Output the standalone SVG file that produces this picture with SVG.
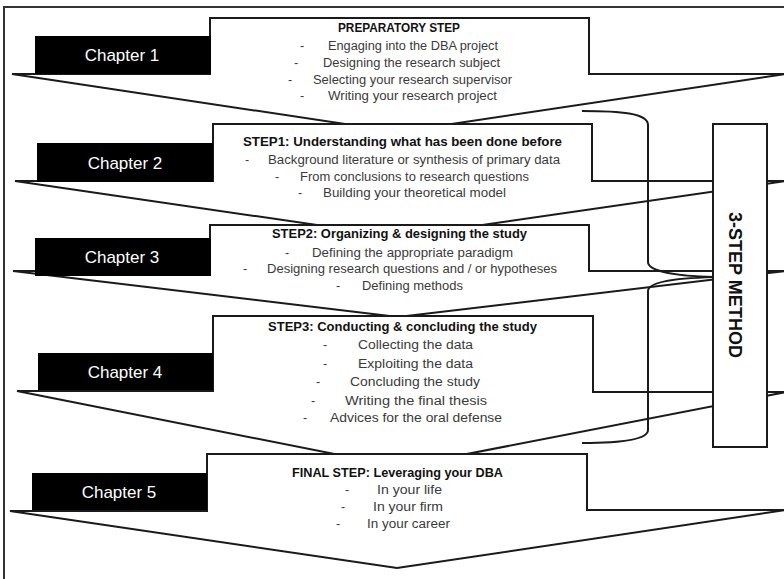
<svg xmlns="http://www.w3.org/2000/svg" width="784" height="579" viewBox="0 0 784 579">
<style>
.bg{fill:#fff}
.frame{fill:none;stroke:#333;stroke-width:2}
.shape{fill:#fff;stroke:#1a1a1a;stroke-width:2;stroke-linejoin:miter}
.chap{fill:#000}
.ct{font-family:"Liberation Sans",Arial,sans-serif;font-size:17px;fill:#fff;text-anchor:middle}
.h{font-family:"Liberation Sans",Arial,sans-serif;font-weight:bold;font-size:13px;fill:#111}
.t{font-family:"Liberation Sans",Arial,sans-serif;font-size:12.5px;fill:#3a3a3a}
.brace{fill:none;stroke:#1a1a1a;stroke-width:2}
.side{fill:#fff;stroke:#1a1a1a;stroke-width:2}
.st{font-family:"Liberation Sans",Arial,sans-serif;font-weight:bold;font-size:18px;fill:#111}
</style>
<rect class="bg" x="0" y="0" width="784" height="579"/>
<rect class="frame" x="4" y="7" width="800" height="600"/>

<g id="step0">
<polygon class="shape" points="210,18 589,18 589,74 786,74 398,132 12,74 210,74"/>
<rect class="chap" x="35" y="36" width="176" height="38"/>
<text class="ct" x="122" y="61">Chapter 1</text>
<text class="h" x="338" y="32" textLength="122" lengthAdjust="spacingAndGlyphs">PREPARATORY STEP</text>
<text class="t" x="300" y="50">-</text><text class="t" x="328" y="50" textLength="170" lengthAdjust="spacingAndGlyphs">Engaging into the DBA project</text>
<text class="t" x="294" y="67">-</text><text class="t" x="323" y="67" textLength="177" lengthAdjust="spacingAndGlyphs">Designing the research subject</text>
<text class="t" x="288" y="84">-</text><text class="t" x="313" y="84" textLength="199" lengthAdjust="spacingAndGlyphs">Selecting your research supervisor</text>
<text class="t" x="300" y="100">-</text><text class="t" x="328" y="100" textLength="169" lengthAdjust="spacingAndGlyphs">Writing your research project</text>
</g>

<g id="step1">
<polygon class="shape" points="213,124 592,124 592,181 786,181 399,237 15,181 213,181"/>
<rect class="chap" x="37" y="143" width="176" height="39"/>
<text class="ct" x="125" y="168.5">Chapter 2</text>
<text class="h" x="243" y="146" textLength="319" lengthAdjust="spacingAndGlyphs">STEP1: Understanding what has been done before</text>
<text class="t" x="245" y="164">-</text><text class="t" x="268" y="164" textLength="292" lengthAdjust="spacingAndGlyphs">Background literature or synthesis of primary data</text>
<text class="t" x="275" y="181">-</text><text class="t" x="300" y="181" textLength="229" lengthAdjust="spacingAndGlyphs">From conclusions to research questions</text>
<text class="t" x="298" y="197">-</text><text class="t" x="323" y="197" textLength="183" lengthAdjust="spacingAndGlyphs">Building your theoretical model</text>
</g>

<g id="step2">
<polygon class="shape" points="210,225 589,225 589,271 786,271 398,317 13,271 210,271"/>
<rect class="chap" x="35" y="238" width="176" height="38"/>
<text class="ct" x="122" y="263">Chapter 3</text>
<text class="h" x="272" y="238" textLength="255" lengthAdjust="spacingAndGlyphs">STEP2: Organizing &amp; designing the study</text>
<text class="t" x="285" y="257">-</text><text class="t" x="312" y="257" textLength="201" lengthAdjust="spacingAndGlyphs">Defining the appropriate paradigm</text>
<text class="t" x="243" y="273">-</text><text class="t" x="267" y="273" textLength="290" lengthAdjust="spacingAndGlyphs">Designing research questions and / or hypotheses</text>
<text class="t" x="336" y="290">-</text><text class="t" x="362" y="290" textLength="101" lengthAdjust="spacingAndGlyphs">Defining methods</text>
</g>

<g id="step3">
<polygon class="shape" points="213,316 593,316 593,392 786,392 400,467 17,391 213,391"/>
<rect class="chap" x="38" y="353" width="175" height="37"/>
<text class="ct" x="125" y="377.5">Chapter 4</text>
<text class="h" x="268" y="331" textLength="269" lengthAdjust="spacingAndGlyphs">STEP3: Conducting &amp; concluding the study</text>
<text class="t" x="323" y="349">-</text><text class="t" x="358" y="349" textLength="115" lengthAdjust="spacingAndGlyphs">Collecting the data</text>
<text class="t" x="323" y="368">-</text><text class="t" x="358" y="368" textLength="115" lengthAdjust="spacingAndGlyphs">Exploiting the data</text>
<text class="t" x="316" y="386">-</text><text class="t" x="350" y="386" textLength="130" lengthAdjust="spacingAndGlyphs">Concluding the study</text>
<text class="t" x="311" y="405">-</text><text class="t" x="345" y="405" textLength="142" lengthAdjust="spacingAndGlyphs">Writing the final thesis</text>
<text class="t" x="303" y="422">-</text><text class="t" x="330" y="422" textLength="172" lengthAdjust="spacingAndGlyphs">Advices for the oral defense</text>
</g>

<g id="step4">
<polygon class="shape" points="207,454 587,454 587,510 786,510 397,568 10,511 207,511"/>
<rect class="chap" x="32" y="473" width="175" height="37"/>
<text class="ct" x="119" y="497.5">Chapter 5</text>
<text class="h" x="292" y="477" textLength="211" lengthAdjust="spacingAndGlyphs">FINAL STEP: Leveraging your DBA</text>
<text class="t" x="345" y="494">-</text><text class="t" x="377" y="494" textLength="65" lengthAdjust="spacingAndGlyphs">In your life</text>
<text class="t" x="341" y="511">-</text><text class="t" x="373" y="511" textLength="70" lengthAdjust="spacingAndGlyphs">In your firm</text>
<text class="t" x="336" y="528">-</text><text class="t" x="367" y="528" textLength="83" lengthAdjust="spacingAndGlyphs">In your career</text>
</g>

<g id="connectors">
<path class="brace" d="M582,111 C620,111 648,113 648,125 V262 C648,272 680,276 713,277 C680,278 648,281 648,291 V430 C648,440 620,443 582,443"/>
</g>

<g id="method">
<rect class="side" x="713" y="124" width="54" height="323"/>
<text class="st" transform="translate(729,285) rotate(90)" text-anchor="middle" textLength="146" lengthAdjust="spacingAndGlyphs">3-STEP METHOD</text>
</g>
</svg>
